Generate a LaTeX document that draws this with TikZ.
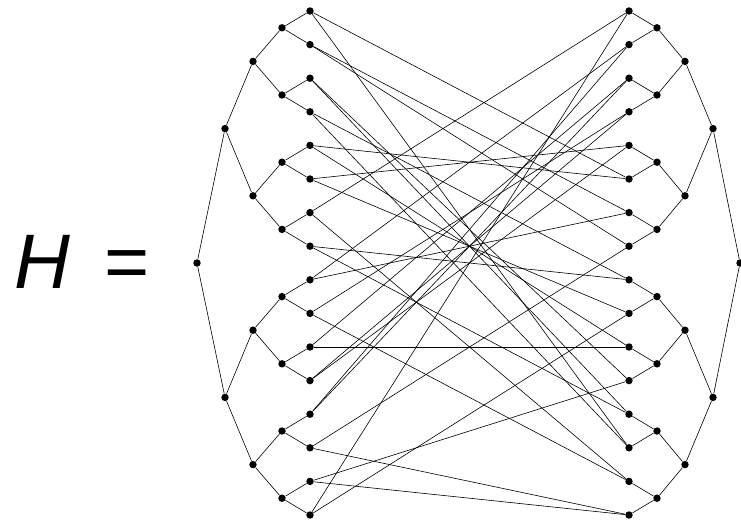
\documentclass[tikz,border=0pt]{standalone}
\usepackage{fontspec}
\setmainfont{Liberation Sans}
\begin{document}
\begin{tikzpicture}[x=0.35mm,y=-0.35mm,line width=0.6pt]
\tikzset{dot/.style={circle,fill,inner sep=0pt,minimum size=2.6mm}}
\useasboundingbox (0,0) rectangle (741,520);
\node (eq) at (82,262) {\fontsize{77}{77}\selectfont\itshape H\upshape\ \,=};
% leaves and inner nodes of the two trees
\foreach \i in {0,...,15} {
  \node[dot] (l\i) at (310,11+33.6*\i) {};
  \node[dot] (r\i) at (629,11+33.6*\i) {};
}
\foreach \i in {0,...,7} {
  \node[dot] (la\i) at (282,27.8+67.2*\i) {};
  \node[dot] (ra\i) at (657,27.8+67.2*\i) {};
}
\foreach \i in {0,...,3} {
  \node[dot] (lb\i) at (253,61.4+134.4*\i) {};
  \node[dot] (rb\i) at (685,61.4+134.4*\i) {};
}
\foreach \i in {0,1} {
  \node[dot] (lc\i) at (225,128.6+268.8*\i) {};
  \node[dot] (rc\i) at (713,128.6+268.8*\i) {};
}
\node[dot] (lroot) at (197,263) {};
\node[dot] (rroot) at (740,263) {};
% tree edges
\foreach \i [evaluate=\i as \a using int(2*\i), evaluate=\i as \b using int(2*\i+1)] in {0,...,7} {
  \draw (la\i) -- (l\a) (la\i) -- (l\b);
  \draw (ra\i) -- (r\a) (ra\i) -- (r\b);
}
\foreach \i [evaluate=\i as \a using int(2*\i), evaluate=\i as \b using int(2*\i+1)] in {0,...,3} {
  \draw (lb\i) -- (la\a) (lb\i) -- (la\b);
  \draw (rb\i) -- (ra\a) (rb\i) -- (ra\b);
}
\foreach \i [evaluate=\i as \a using int(2*\i), evaluate=\i as \b using int(2*\i+1)] in {0,1} {
  \draw (lc\i) -- (lb\a) (lc\i) -- (lb\b);
  \draw (rc\i) -- (rb\a) (rc\i) -- (rb\b);
}
\draw (lroot) -- (lc0) (lroot) -- (lc1);
\draw (rroot) -- (rc0) (rroot) -- (rc1);
% edges between the leaves
\foreach \a/\b in {0/5,0/13,1/6,1/7,2/11,2/12,3/8,3/13,4/5,4/10,5/4,5/9,6/0,6/14,
  7/8,7/12,8/1,8/6,9/3,9/14,10/2,10/10,11/3,11/4,12/1,12/2,13/7,13/15,14/11,14/15,15/0,15/9}
  \draw (l\a) -- (r\b);
\end{tikzpicture}
\end{document}
